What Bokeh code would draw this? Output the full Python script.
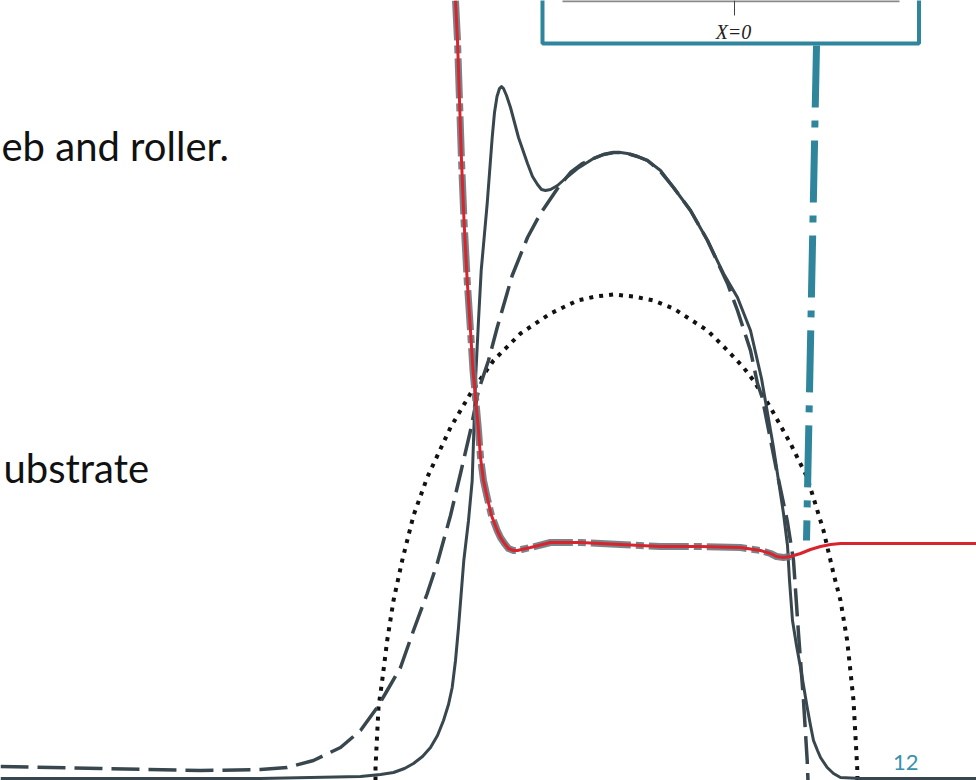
from bokeh.plotting import figure
from bokeh.models import Range1d
from bokeh.core.properties import value
from bokeh.embed import file_html
from bokeh.resources import INLINE

# Profiles across the nip, in screen-like units (x to the right, depth downwards)
solid_x = [0, 260, 360, 380, 393, 404, 413, 422, 430, 437, 443, 448, 451.7, 455, 458, 463.3,
           468, 471.7, 475, 478, 480.7, 486.7, 491.7, 494, 496.5, 499, 501, 503, 506, 510,
           518, 527, 532, 537, 541, 545, 550, 557, 566, 577, 593, 603, 613, 620, 627, 637,
           647, 660, 673, 690, 707, 723, 737, 750, 761, 773, 783, 787, 789, 792, 796, 800,
           806.7, 810, 813, 817, 820, 826.7, 833, 840, 860, 976]
solid_y = [778, 778, 776, 774, 772, 768, 763, 756, 747, 735, 720, 704, 687, 660, 627, 560,
           520, 480, 380, 320, 270, 203, 137, 112, 96, 88, 86, 88, 95, 107,
           137, 163, 176, 184, 189, 190, 189, 185, 177, 168, 158, 154, 152, 152, 153, 156,
           160, 170, 187, 210, 240, 273, 297, 330, 378, 447, 513, 545, 580, 620, 645, 667,
           707, 725, 740, 750, 757, 767, 773, 777, 778, 778]

dashed_x = [0, 100, 200, 260, 286.7, 313, 340, 360, 376.7, 386.7, 400, 413, 426.7, 436.7,
            450, 460, 470, 478, 488, 496.7, 511.7, 527, 540, 557, 570, 582, 593, 603, 613,
            620, 627, 637, 647, 660, 673, 690, 707, 727, 737, 750, 757, 761.7, 776.7, 786.7,
            793, 798, 803, 806.7, 807.5]
dashed_y = [766, 768, 770, 769, 767, 760, 747, 730, 707, 690, 667, 630, 593, 563,
            515, 473, 430, 390, 360, 327, 275, 237, 213, 188, 172, 163, 158, 154, 152,
            152, 153, 156, 160, 171, 187, 210, 240, 283, 310, 350, 383, 397, 473, 520,
            560, 633, 700, 760, 780]

dotted_x = [375, 375, 378, 381.7, 386.7, 393, 401.7, 413, 426.7, 450, 470, 493, 520, 550,
            577, 595, 613, 633, 653, 673, 707, 727, 743, 753, 770, 790, 806.7, 823, 833, 840,
            846.7, 853, 856.7, 857]
dotted_y = [780, 767, 707, 680, 640, 600, 560, 515, 477, 427, 393, 360, 333, 313,
            300, 296, 294, 296, 300, 308, 330, 350, 367, 380, 407, 443, 477, 530, 573, 600,
            640, 700, 767, 780]

red_x = [455, 457, 459, 461, 463.5, 466.7, 470, 472.5, 475, 478, 480, 483, 486.7, 491,
         496.7, 500, 504, 508, 513, 517, 521, 530, 550, 580, 620, 660, 700, 740, 760,
         770, 776, 783, 790, 800, 810, 820, 830, 840, 870, 976]
red_y = [0, 40, 100, 160, 220, 280, 330, 370, 397, 430, 457, 480, 497, 515,
         530, 537, 543, 548, 550, 550, 549, 547, 542, 542, 544, 546, 546, 547, 550,
         553, 556, 557, 556, 553, 549, 546, 544, 543, 543, 543]
# the grey trace under the red one stops short of the right edge
under_n = 33

# vertical marker X=0 and the inset frame around its label
marker_x = [816, 806]
marker_y = [45, 540]
frame = dict(left=542, right=918.5, top=-20, bottom=43)
rule_x = [562, 899]
rule_y = [0.5, 0.5]
tick_x = [734, 734]
tick_y = [0, 15]
marker_label = "X=0"

left_texts = ["eb and roller.", "ubstrate"]
left_text_x = [1, 3]
left_text_y = [145, 467]
page_number = "12"

DARK = "#38474e"
TEAL = "#2f859c"

p = figure(width=976, height=780, x_range=Range1d(0, 976), y_range=Range1d(780, 0),
           output_backend="svg", toolbar_location=None, min_border=0)
p.axis.visible = False
p.grid.visible = False
p.outline_line_color = None
p.background_fill_color = "white"
p.border_fill_color = "white"

p.line(dotted_x, dotted_y, line_color="#111111", line_width=4, line_dash="4 6",
       line_cap="butt")
p.line(dashed_x, dashed_y, line_color=DARK, line_width=3.5, line_dash="28 9",
       line_cap="butt", line_join="round")
p.line(solid_x, solid_y, line_color=DARK, line_width=3, line_join="round")

p.line(red_x[:under_n], red_y[:under_n], line_color="#6b767d", line_width=7,
       line_dash="40 5 8 5", line_alpha=0.9, line_join="round")
p.line(red_x, red_y, line_color="#d8252d", line_width=3, line_join="round")

p.line(marker_x, marker_y, line_color=TEAL, line_width=7, line_dash="62 13 7 13",
       line_cap="butt")

p.quad(left=[frame["left"]], right=[frame["right"]], top=[frame["top"]],
       bottom=[frame["bottom"]], fill_color="white", line_color=TEAL, line_width=4)
p.line(rule_x, rule_y, line_color="#8a8a8a", line_width=2.5)
p.line(tick_x, tick_y, line_color="#444444", line_width=1)
p.text([733], [31], text=[marker_label], text_font=value("Liberation Serif"),
       text_font_style="italic", text_font_size="20px", text_color="#222222",
       text_align="center", text_baseline="alphabetic")

p.text(left_text_x, left_text_y, text=left_texts, text_font=value("Lato"),
       text_font_size="40px", text_color="#111111", text_align="left",
       text_baseline="alphabetic")
p.text([918], [762], text=[page_number], text_font=value("Lato"),
       text_font_size="22px", text_color="#3a91a9", text_align="right",
       text_baseline="alphabetic")

open("out.html", "w").write(file_html(p, INLINE))
